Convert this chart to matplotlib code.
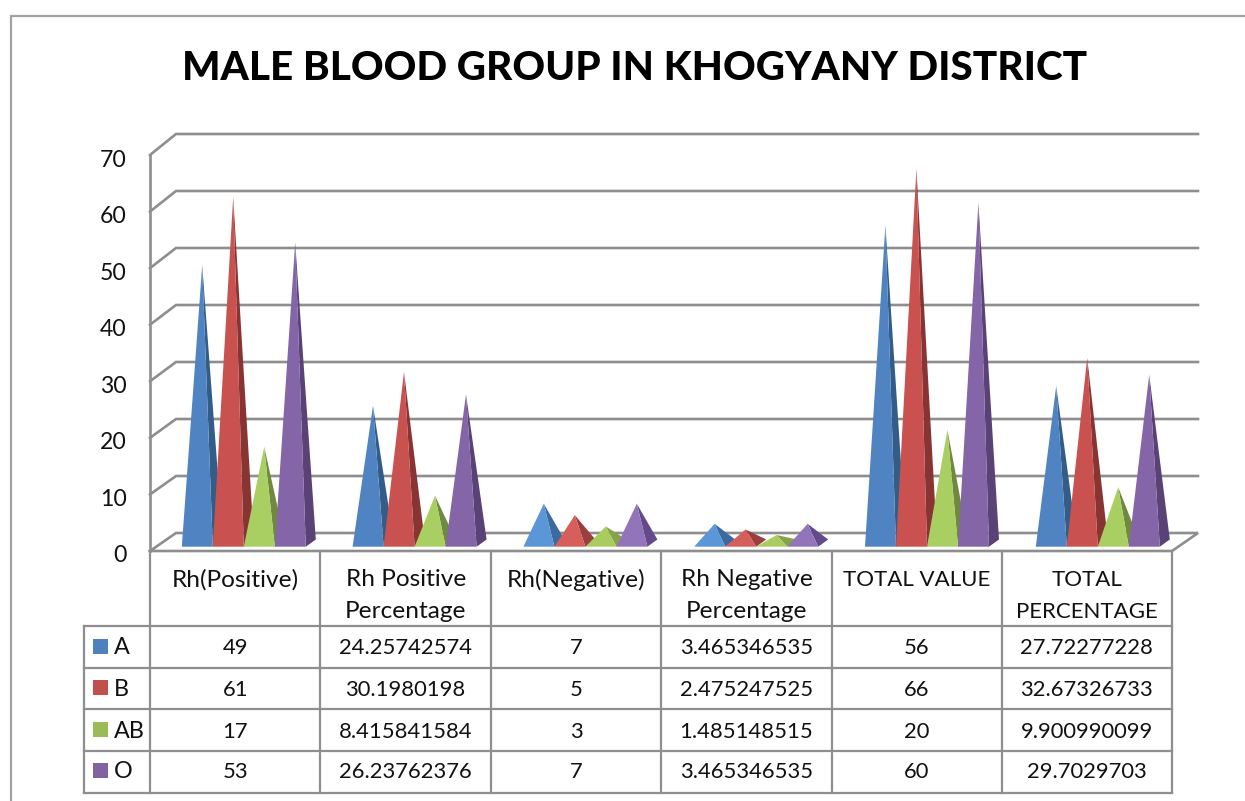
import matplotlib
matplotlib.use("Agg")
import matplotlib.pyplot as plt

plt.rcParams['font.family'] = ['Lato', 'DejaVu Sans']

# ---------- data ----------
title = "MALE BLOOD GROUP IN KHOGYANY DISTRICT"
categories = ["Rh(Positive)", "Rh Positive\nPercentage", "Rh(Negative)",
              "Rh Negative\nPercentage", "TOTAL VALUE", "TOTAL\nPERCENTAGE"]
series_names = ["A", "B", "AB", "O"]
values_A = [49, 24.25742574, 7, 3.465346535, 56, 27.72277228]
values_B = [61, 30.1980198, 5, 2.475247525, 66, 32.67326733]
values_AB = [17, 8.415841584, 3, 1.485148515, 20, 9.900990099]
values_O = [53, 26.23762376, 7, 3.465346535, 60, 29.7029703]
series_values = [values_A, values_B, values_AB, values_O]
y_ticks = [0, 10, 20, 30, 40, 50, 60, 70]

# ---------- style ----------
W, H = 1245, 801
legend_colors = ["#4f81bd", "#c0504d", "#9bbb59", "#8064a2"]
front_colors = ["#5083c2", "#c9514f", "#a9cf63", "#8465a7"]
side_colors = ["#325d88", "#873433", "#6f8a3e", "#5a4176"]
bright_front = ["#5b96d8", "#d65e5b", "#a8cc5e", "#9274bb"]
bright_side = ["#3c6a9e", "#9a3f3d", "#86a34a", "#644a88"]
bright_groups = [2, 3]
grid_c = "#8e8e8e"
border_c = "#a3a3a3"
txt_c = "#111111"
FS_TEXT = 17.6
FS_CAPS = 16.0
FS_NAME = 16.8
FS_NUM = 15.8
LW = 1.6

fig = plt.figure(figsize=(W / 100, H / 100), dpi=100, facecolor="white")


def box(l, t, r, b):
    return [l / W, 1 - b / H, (r - l) / W, (b - t) / H]


# pixel overlay for chart furniture
under = fig.add_axes([0, 0, 1, 1], zorder=0)
under.set_xlim(0, W)
under.set_ylim(H, 0)
under.axis("off")

# chart border
under.plot([10.5, 10.5, W], [H, 15.5, 15.5], color=border_c, lw=1.6, solid_joinstyle="miter")

# walls and gridlines
FX0, FX1 = 150, 1172
DX = 26
front_y = lambda v: 551 - v * 396 / 70
back_y = lambda v: 533 - v * 399 / 70
for v in y_ticks:
    if v == 0:
        continue
    under.plot([FX0, FX0 + DX, FX1 + DX], [front_y(v), back_y(v), back_y(v)],
               color=grid_c, lw=LW + 0.3, solid_joinstyle="miter")
under.plot([FX0, FX0], [front_y(70), front_y(0)], color=grid_c, lw=LW + 0.3)
under.plot([FX0, FX0 + DX, FX1 + DX, FX1, FX0],
           [front_y(0), back_y(0), back_y(0), front_y(0), front_y(0)],
           color=grid_c, lw=LW + 0.3, solid_joinstyle="miter")

# value axis
tick_ax = fig.add_axes(box(FX0, 158, FX1, 554), zorder=1)
tick_ax.set_xlim(0, 1)
tick_ax.set_ylim(0, 70)
tick_ax.patch.set_alpha(0)
for s in tick_ax.spines.values():
    s.set_visible(False)
tick_ax.set_xticks([])
tick_ax.set_yticks(y_ticks)
tick_ax.tick_params(axis="y", length=0, pad=17, labelsize=16.6, labelcolor=txt_c)

# pyramids: group i is centred at pixel 243.8 + 170.8 * i, value v peaks at 543.5 - 5.68 * v
PX_X, PX_Y = 170.8, 5.68
ax = fig.add_axes(box(FX0, 140, FX1, 551), zorder=2)
ax.set_xlim((FX0 - 243.8) / PX_X, (FX1 - 243.8) / PX_X)
ax.set_ylim((543.5 - 551) / PX_Y, (543.5 - 140) / PX_Y)
ax.axis("off")
ax.patch.set_alpha(0)
bw = 31 / PX_X
apex_dx = 20.4 / PX_X
depth_x = 10 / PX_X
y_front = -3.2 / PX_Y
y_rear = 4 / PX_Y
for i in range(len(categories)):
    fc = bright_front if i in bright_groups else front_colors
    sc = bright_side if i in bright_groups else side_colors
    for j, vals in enumerate(series_values):
        x0 = i + (j - 2) * bw
        v = vals[i]
        ax.fill([x0 + bw, x0 + bw + depth_x, x0 + apex_dx], [y_front, y_rear, v],
                color=sc[j], lw=0)
        ax.fill([x0, x0 + bw, x0 + apex_dx], [y_front, y_front, v],
                color=fc[j], lw=0)

# data table
over = fig.add_axes([0, 0, 1, 1], zorder=3)
over.set_xlim(0, W)
over.set_ylim(H, 0)
over.axis("off")
over.patch.set_alpha(0)
col_x = [150, 320.4, 491, 661.3, 831.8, 1001.8, 1171.8]
row_y = [626, 667.7, 709.4, 751.3, 792.7]
TL, TT = 83.5, 551
for x in col_x:
    over.plot([x, x], [TT, row_y[-1]], color=grid_c, lw=LW, solid_capstyle="projecting", zorder=1)
over.plot([TL, TL], [row_y[0], row_y[-1]], color=grid_c, lw=LW, solid_capstyle="projecting")
for y in row_y:
    over.plot([TL, col_x[-1]], [y, y], color=grid_c, lw=LW, solid_capstyle="projecting")

for i, c in enumerate(categories):
    xc = (col_x[i] + col_x[i + 1]) / 2
    for k, line in enumerate(c.split("\n")):
        over.text(xc, 580 + 32 * k, line, ha="center", va="center",
                  fontsize=FS_CAPS if line.isupper() else FS_TEXT, color=txt_c)

row_cy = [647, 688, 730, 771]
for r, name in enumerate(series_names):
    cy = row_cy[r]
    over.fill([93, 108, 108, 93], [cy - 8, cy - 8, cy + 7, cy + 7], color=legend_colors[r], lw=0)
    over.text(114, cy + 1, name, ha="left", va="center", fontsize=FS_NAME, color=txt_c)
    for i in range(len(categories)):
        xc = (col_x[i] + col_x[i + 1]) / 2
        over.text(xc, cy + 1.5, str(series_values[r][i]), ha="center", va="center",
                  fontsize=FS_NUM, color=txt_c)

over.text(635, 69, title, ha="center", va="center", fontsize=29.1, fontweight="black", color="#000000")

fig.savefig("out.png", dpi=100, facecolor="white")
